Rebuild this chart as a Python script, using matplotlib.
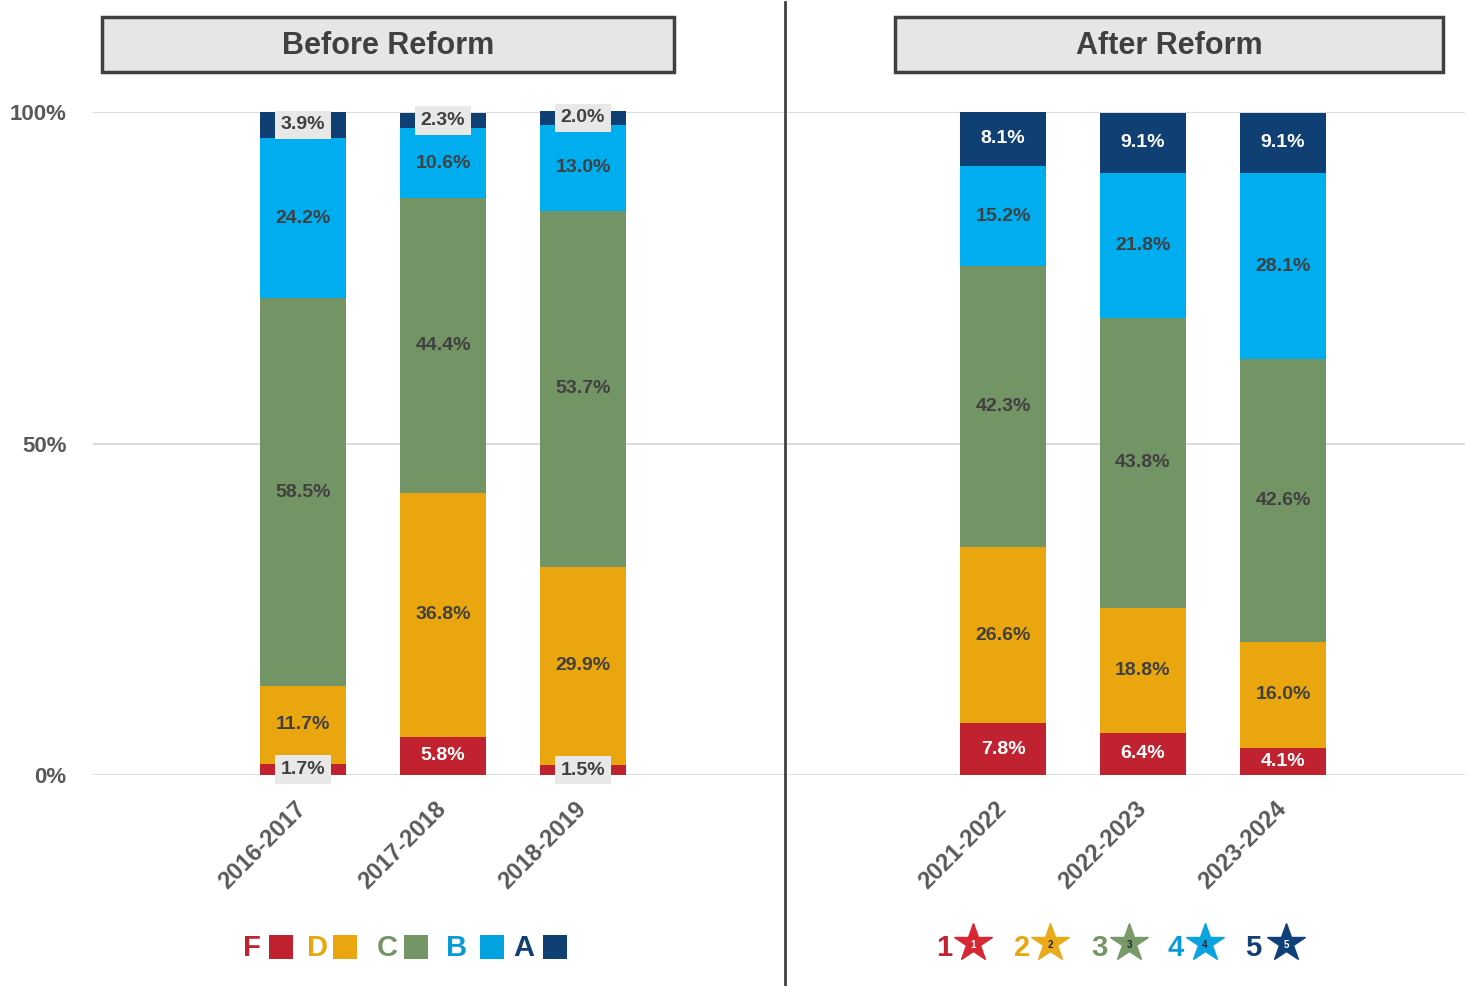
import numpy as np
import matplotlib
matplotlib.use("Agg")
import matplotlib.pyplot as plt
from matplotlib.patches import Rectangle

plt.rcParams['font.family'] = ['Liberation Sans', 'DejaVu Sans']

# data (percent of schools per rating)
years_before = ['2016-2017', '2017-2018', '2018-2019']
years_after = ['2021-2022', '2022-2023', '2023-2024']
grades = ['F', 'D', 'C', 'B', 'A']
stars = ['1', '2', '3', '4', '5']

before_F = [1.7, 5.8, 1.5]
before_D = [11.7, 36.8, 29.9]
before_C = [58.5, 44.4, 53.7]
before_B = [24.2, 10.6, 13.0]
before_A = [3.9, 2.3, 2.0]

after_1 = [7.8, 6.4, 4.1]
after_2 = [26.6, 18.8, 16.0]
after_3 = [42.3, 43.8, 42.6]
after_4 = [15.2, 21.8, 28.1]
after_5 = [8.1, 9.1, 9.1]

colors = ['#C0232F', '#E9A60E', '#739465', '#00AEEF', '#0F3F73']
text_dark = '#404040'

years = years_before + years_after
xpos = [0, 1, 2, 5, 6, 7]
series = [before_F + after_1, before_D + after_2, before_C + after_3,
          before_B + after_4, before_A + after_5]

fig = plt.figure(figsize=(14.7, 9.86), dpi=100)
ax = fig.add_axes([93 / 1470, 1 - 775 / 986, 1372 / 1470, 663 / 986])

bottom = np.zeros(len(xpos))
for i, vals in enumerate(series):
    vals = np.array(vals)
    ax.bar(xpos, vals, width=0.62, bottom=bottom, color=colors[i], zorder=3, clip_on=False)
    for x, b, v, after in zip(xpos, bottom, vals, [0, 0, 0, 1, 1, 1]):
        y = b + v / 2
        lab = '%.1f%%' % v
        if v < 4:
            ax.text(x, y, lab, ha='center', va='center', fontsize=14, fontweight='bold',
                    color=text_dark, zorder=5,
                    bbox=dict(boxstyle='square,pad=0.3', fc='#E8E8E8', ec='none'))
        elif i == 0 or (i == 4 and after):
            ax.text(x, y, lab, ha='center', va='center', fontsize=14, fontweight='bold',
                    color='white', zorder=5)
        else:
            ax.text(x, y, lab, ha='center', va='center', fontsize=14, fontweight='bold',
                    color=text_dark, zorder=5)
    bottom += vals

ax.set_xlim(-1.5, 8.3)
ax.set_ylim(0, 100)
for s in ax.spines.values():
    s.set_visible(False)
ax.set_yticks([0, 50, 100])
ax.set_yticklabels(['0%', '50%', '100%'], fontsize=16, fontweight='bold', color='#595959')
ax.yaxis.grid(True, color='#D9D9D9', lw=1.3, zorder=0)
ax.tick_params(axis='y', length=0, pad=19)
ax.set_xticks(xpos)
ax.set_xticklabels(years, rotation=45, ha='right', va='center', rotation_mode='anchor',
                   fontsize=17, fontweight='bold', color='#595959')
ax.tick_params(axis='x', length=0, pad=22)

# overlay in pixel coordinates for headers, divider and legends
ov = fig.add_axes([0, 0, 1, 1], zorder=5)
ov.set_xlim(0, 1470)
ov.set_ylim(986, 0)
ov.axis('off')
ov.patch.set_alpha(0)

ov.plot([785, 785], [2, 986], color='#404040', lw=2)

for x0, x1, title in [(102, 674, 'Before Reform'), (895, 1443, 'After Reform')]:
    ov.add_patch(Rectangle((x0, 17), x1 - x0, 55, fc='#E7E6E6', ec='#404040', lw=2.5))
    ov.text((x0 + x1) / 2, 46, title, ha='center', va='center', fontsize=22,
            fontweight='bold', color=text_dark)

# left legend: letter grades
letter_x = [252, 318, 387, 457, 524]
square_x = [269, 333, 404, 480, 543]
text_cols = ['#C0232F', '#E9A60E', '#739465', '#0A9BD6', '#0F3F73']
for g, lx, sx, c, tc in zip(grades, letter_x, square_x, colors, text_cols):
    ov.text(lx, 948, g, ha='center', va='center', fontsize=21, fontweight='bold', color=tc)
    ov.add_patch(Rectangle((sx, 935), 24, 24, fc=c if g != 'B' else '#00A3E0', ec='none'))

# right legend: star ratings
num_x = [944, 1022, 1099, 1176, 1253]
star_x = [973, 1050, 1129, 1205, 1286]
star_cols = ['#D62834', '#EBAA1A', '#789A6B', '#0AA3E0', '#10407A']
inner_cols = ['white', '#222222', '#222222', '#222222', 'white']
for n, nx, sx, c, ic, tc in zip(stars, num_x, star_x, star_cols, inner_cols, text_cols):
    ov.text(nx, 948, n, ha='center', va='center', fontsize=21, fontweight='bold', color=tc)
    ov.plot(sx, 943, marker='*', ms=29, color=c, mec=c)
    ov.text(sx, 945, n, ha='center', va='center', fontsize=7, fontweight='bold', color=ic)

fig.savefig('out.png', dpi=100)
